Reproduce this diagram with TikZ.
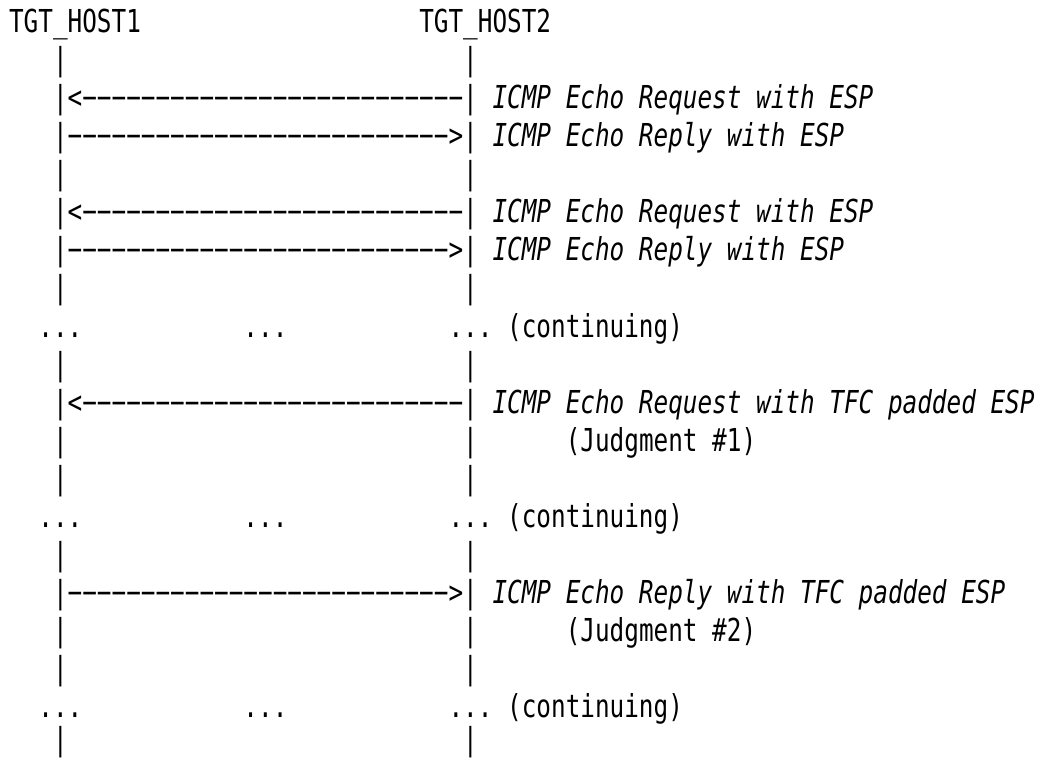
\documentclass[tikz,border=0pt]{standalone}
\usepackage{fontspec}
\setmonofont{DejaVu Sans Mono}[FakeStretch=0.77]
\usepackage{tikz}

\newlength{\charw}
\newcommand{\gap}[1]{\hspace*{#1\charw}}
\newcommand{\asciifont}{\ttfamily\fontsize{15.8pt}{19pt}\selectfont}

\begin{document}
\settowidth{\charw}{\asciifont x}
\begin{tikzpicture}[
    x=0.5pt, y=0.5pt,
    row/.style={anchor=base west, inner sep=0pt, font=\asciifont},
  ]
  \useasboundingbox (0,0) rectangle (1044,-759);

  % hosts
  \node[row] (r01) at (8.7,-33)  {TGT\_HOST1\gap{19}TGT\_HOST2};
  \node[row] (r02) at (8.7,-71)  {\gap{3}|\gap{27}|};

  % plain ESP exchange
  \node[row] (r03) at (8.7,-109) {\gap{3}|<−−−−−−−−−−−−−−−−−−−−−−−−−−|\gap{1}\itshape ICMP Echo Request with ESP};
  \node[row] (r04) at (8.7,-147) {\gap{3}|−−−−−−−−−−−−−−−−−−−−−−−−−−>|\gap{1}\itshape ICMP Echo Reply with ESP};
  \node[row] (r05) at (8.7,-185) {\gap{3}|\gap{27}|};
  \node[row] (r06) at (8.7,-223) {\gap{3}|<−−−−−−−−−−−−−−−−−−−−−−−−−−|\gap{1}\itshape ICMP Echo Request with ESP};
  \node[row] (r07) at (8.7,-261) {\gap{3}|−−−−−−−−−−−−−−−−−−−−−−−−−−>|\gap{1}\itshape ICMP Echo Reply with ESP};
  \node[row] (r08) at (8.7,-299) {\gap{3}|\gap{27}|};
  \node[row] (r09) at (8.7,-337) {\gap{2}...\gap{11}...\gap{11}...\gap{1}(continuing)};
  \node[row] (r10) at (8.7,-375) {\gap{3}|\gap{27}|};

  % TFC padded request
  \node[row] (r11) at (8.7,-413) {\gap{3}|<−−−−−−−−−−−−−−−−−−−−−−−−−−|\gap{1}\itshape ICMP Echo Request with TFC padded ESP};
  \node[row] (r12) at (8.7,-451) {\gap{3}|\gap{27}|\gap{6}(Judgment \#1)};
  \node[row] (r13) at (8.7,-489) {\gap{3}|\gap{27}|};
  \node[row] (r14) at (8.7,-527) {\gap{2}...\gap{11}...\gap{11}...\gap{1}(continuing)};
  \node[row] (r15) at (8.7,-565) {\gap{3}|\gap{27}|};

  % TFC padded reply
  \node[row] (r16) at (8.7,-603) {\gap{3}|−−−−−−−−−−−−−−−−−−−−−−−−−−>|\gap{1}\itshape ICMP Echo Reply with TFC padded ESP};
  \node[row] (r17) at (8.7,-641) {\gap{3}|\gap{27}|\gap{6}(Judgment \#2)};
  \node[row] (r18) at (8.7,-679) {\gap{3}|\gap{27}|};
  \node[row] (r19) at (8.7,-717) {\gap{2}...\gap{11}...\gap{11}...\gap{1}(continuing)};
  \node[row] (r20) at (8.7,-750) {\gap{3}|\gap{27}|};
\end{tikzpicture}
\end{document}
